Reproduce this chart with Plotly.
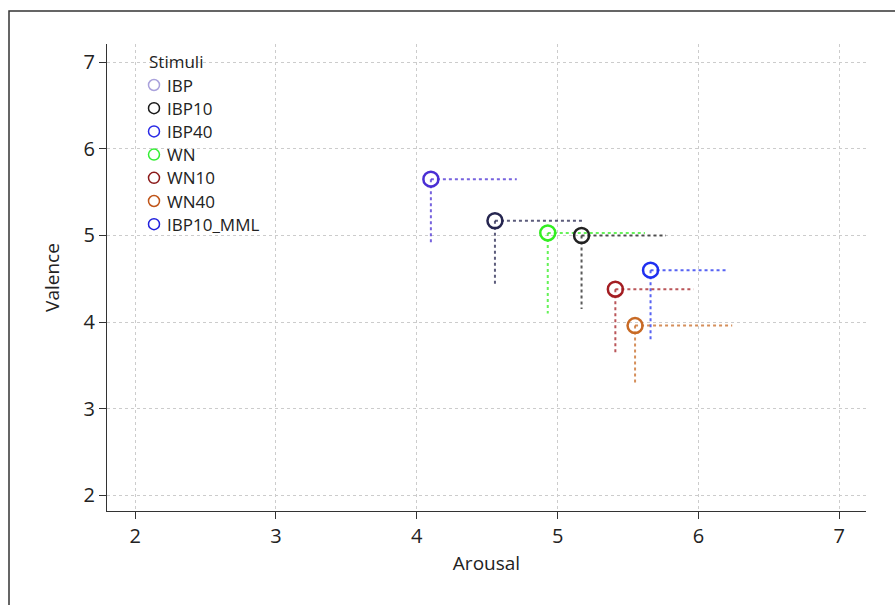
import plotly.graph_objects as go

# ---- data ----
stimuli = ["IBP", "IBP10", "IBP40", "WN", "WN10", "WN40", "IBP10_MML"]
arousal = [4.10, 5.17, 5.66, 4.93, 5.41, 5.55, 4.555]
valence = [5.65, 5.00, 4.60, 5.03, 4.38, 3.96, 5.17]
arousal_err = [0.61, 0.60, 0.545, 0.69, 0.555, 0.69, 0.635]
valence_err = [0.735, 0.85, 0.81, 0.93, 0.745, 0.68, 0.76]
point_colors = ["#4a2fd4", "#222222", "#1f2ff0", "#33ee22", "#a31d22", "#c86a25", "#262650"]
legend_colors = ["#aaa2dc", "#1a1a1a", "#2a2ae6", "#33ee33", "#8b1a1a", "#c0561a", "#2222dd"]
x_ticks = [2, 3, 4, 5, 6, 7]
y_ticks = [2, 3, 4, 5, 6, 7]

FONT = "Open Sans"
fig = go.Figure()

# dotted one-sided spread lines
for name, xv, yv, ex, ey, c in zip(stimuli, arousal, valence, arousal_err, valence_err, point_colors):
    fig.add_trace(go.Scatter(x=[xv, xv + ex], y=[yv, yv], mode="lines",
                             line=dict(color=c, width=2, dash="dot"),
                             opacity=0.75, showlegend=False, hoverinfo="skip"))
    fig.add_trace(go.Scatter(x=[xv, xv], y=[yv, yv - ey], mode="lines",
                             line=dict(color=c, width=2, dash="dot"),
                             opacity=0.75, showlegend=False, hoverinfo="skip"))

# markers
for name, xv, yv, c in zip(stimuli, arousal, valence, point_colors):
    fig.add_trace(go.Scatter(x=[xv], y=[yv], mode="markers", name=name,
                             marker=dict(symbol="circle-open", size=15, color=c,
                                         line=dict(width=2.5, color=c)),
                             showlegend=False))

L, R, T, B = 107, 29, 44, 94
W, H = 895, 605
pw, ph = W - L - R, H - T - B
base = H - B


def px(x):
    return (x - L) / pw


def py(y):
    return (base - y) / ph


shapes = [dict(type="rect", xref="paper", yref="paper",
               x0=px(9), x1=px(W + 20), y0=py(H + 20), y1=py(11),
               line=dict(color="#333333", width=1.5), layer="below")]
annotations = [dict(text="Stimuli", xref="paper", yref="paper", x=px(147), y=py(61),
                    xanchor="left", yanchor="middle", showarrow=False,
                    font=dict(family=FONT, size=17, color="#222222"))]

# manual legend (layout decoration)
for i, (name, c) in enumerate(zip(stimuli, legend_colors)):
    cy = 85 + i * 23.2
    r = 5.5
    shapes.append(dict(type="circle", xref="paper", yref="paper",
                       x0=px(154 - r), x1=px(154 + r), y0=py(cy + r), y1=py(cy - r),
                       line=dict(color=c, width=1.5), fillcolor="rgba(0,0,0,0)"))
    annotations.append(dict(text=name, xref="paper", yref="paper", x=px(165), y=py(cy),
                            xanchor="left", yanchor="middle", showarrow=False,
                            font=dict(family=FONT, size=17, color="#222222")))

fig.update_layout(
    width=W, height=H,
    margin=dict(l=L, r=R, t=T, b=B),
    paper_bgcolor="white", plot_bgcolor="white",
    font=dict(family=FONT, size=20, color="#222222"),
    showlegend=False,
    shapes=shapes, annotations=annotations,
    xaxis=dict(range=[1.8, 7.19], tickvals=x_ticks, ticktext=[str(v) for v in x_ticks],
               showline=True, linecolor="#333333", linewidth=1.3,
               ticks="outside", ticklen=7, tickcolor="#333333",
               showgrid=True, gridcolor="#cccccc", griddash="dot", gridwidth=1,
               zeroline=False, title=dict(text="Arousal", standoff=8, font=dict(size=19)),
               tickfont=dict(size=20)),
    yaxis=dict(range=[1.82, 7.21], tickvals=y_ticks, ticktext=[str(v) for v in y_ticks],
               showline=True, linecolor="#333333", linewidth=1.3,
               ticks="outside", ticklen=7, tickcolor="#333333",
               showgrid=True, gridcolor="#cccccc", griddash="dot", gridwidth=1,
               zeroline=False, title=dict(text="Valence", standoff=18, font=dict(size=19)),
               tickfont=dict(size=20)),
)

fig.write_html("out.html")
